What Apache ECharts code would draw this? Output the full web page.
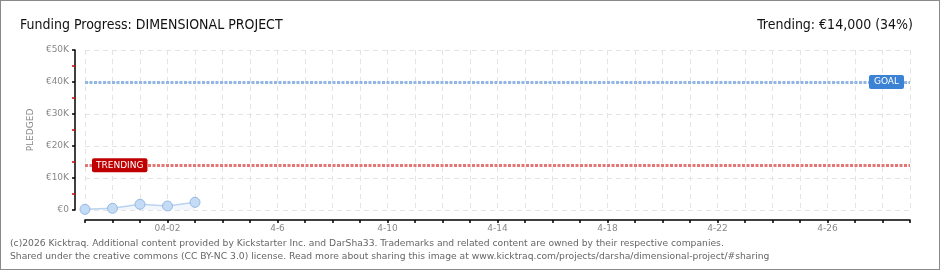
<!DOCTYPE html>
<html><head><meta charset="utf-8">
<script src="https://cdn.jsdelivr.net/npm/echarts@6/dist/echarts.min.js"></script>
<style>
html,body{margin:0;padding:0;background:#fff;}
#wrap{position:relative;width:940px;height:270px;box-sizing:border-box;border:1px solid #8a8a8a;}
#c{position:absolute;left:-1px;top:-1px;width:940px;height:270px;}
</style></head><body>
<div id="wrap"><div id="c"></div></div>
<script>
const categories = ['3-30','3-31','4-1','4-2','4-3','4-4','4-5','4-6','4-7','4-8','4-9','4-10','4-11','4-12','4-13','4-14','4-15','4-16','4-17','4-18','4-19','4-20','4-21','4-22','4-23','4-24','4-25','4-26','4-27','4-28','4-29'];
const tickLabels = {'4-2':'04-02','4-6':'4-6','4-10':'4-10','4-14':'4-14','4-18':'4-18','4-22':'4-22','4-26':'4-26'};
const pledged = [200, 530, 1780, 1250, 2400];
const goal = 40000;
const trending = 14000;
const yTicks = ['€0','€10K','€20K','€30K','€40K','€50K'];

const chart = echarts.init(document.getElementById('c'));
const pixFont = 'DejaVu Sans';
const headFont = 'DejaVu Sans Condensed, Liberation Sans Narrow, DejaVu Sans, sans-serif';
chart.setOption({
  animation:false,
  title:[
    {text:'Funding Progress: DIMENSIONAL PROJECT',left:15,top:13,textStyle:{fontFamily:headFont,fontWeight:'normal',fontSize:14,color:'#111'}},
    {text:'Trending: €14,000 (34%)',right:22,top:13,textStyle:{fontFamily:headFont,fontWeight:'normal',fontSize:14,color:'#111'}},
    {text:'(c)2026 Kicktraq. Additional content provided by Kickstarter Inc. and DarSha33. Trademarks and related content are owned by their respective companies.\nShared under the creative commons (CC BY-NC 3.0) license. Read more about sharing this image at www.kicktraq.com/projects/darsha/dimensional-project/#sharing',
     left:5,top:232,textStyle:{fontFamily:'DejaVu Sans',fontWeight:'normal',fontSize:9.2,color:'#666',lineHeight:13}}
  ],
  grid:{left:85,right:30,top:50,bottom:60},
  xAxis:{type:'category',data:categories,boundaryGap:false,offset:10,
    axisLine:{onZero:false,lineStyle:{color:'#000',width:1.5}},
    axisTick:{show:true,length:3,interval:0,lineStyle:{color:'#000',width:1.5}},
    axisLabel:{interval:0,margin:4,fontFamily:pixFont,fontSize:9,color:'#888',formatter:v=>tickLabels[v]||''},
    splitLine:{show:true,interval:0,lineStyle:{color:'#e4e4e4',type:[5,4]}}
  },
  yAxis:{type:'value',min:0,max:50000,interval:10000,offset:10,
    name:'PLEDGED',nameLocation:'middle',nameGap:40,nameTextStyle:{fontFamily:pixFont,fontSize:9,color:'#888'},
    axisLine:{show:true,onZero:false,lineStyle:{color:'#000',width:1.5}},
    axisTick:{show:true,length:3,lineStyle:{color:'#000',width:1.5}},
    minorTick:{show:true,splitNumber:2,length:3,lineStyle:{color:'#d00',width:1.5}},
    axisLabel:{margin:6,fontFamily:pixFont,fontSize:9,color:'#888',formatter:(v)=>yTicks[Math.round(v/10000)]},
    splitLine:{show:true,lineStyle:{color:'#e4e4e4',type:[5,4]}}
  },
  series:[{type:'line',data:pledged,symbol:'circle',symbolSize:10,
    itemStyle:{color:'#c4dbf5',borderColor:'#94b8e2',borderWidth:1},
    lineStyle:{color:'#b9d3f0',width:1.5},
    areaStyle:{color:'#eef4fc'},
    markLine:{silent:true,symbol:'none',
      data:[
        {yAxis:goal,lineStyle:{color:'#92b7e4',width:3,type:[3,1.5]},
         label:{show:true,position:'end',formatter:'GOAL',align:'right',offset:[-6,0],distance:0,backgroundColor:'#3b82d4',color:'#fff',fontFamily:pixFont,fontSize:9,padding:[3,5,2,5],borderRadius:2}},
        {yAxis:trending,lineStyle:{color:'#e47676',width:3,type:[3,1.5]},
         label:{show:true,position:'start',formatter:'TRENDING',align:'left',offset:[7,0],distance:0,backgroundColor:'#c00000',color:'#fff',fontFamily:pixFont,fontSize:9,padding:[3,4,2,4],borderRadius:2}}
      ]}
  }]
});
</script></body></html>
